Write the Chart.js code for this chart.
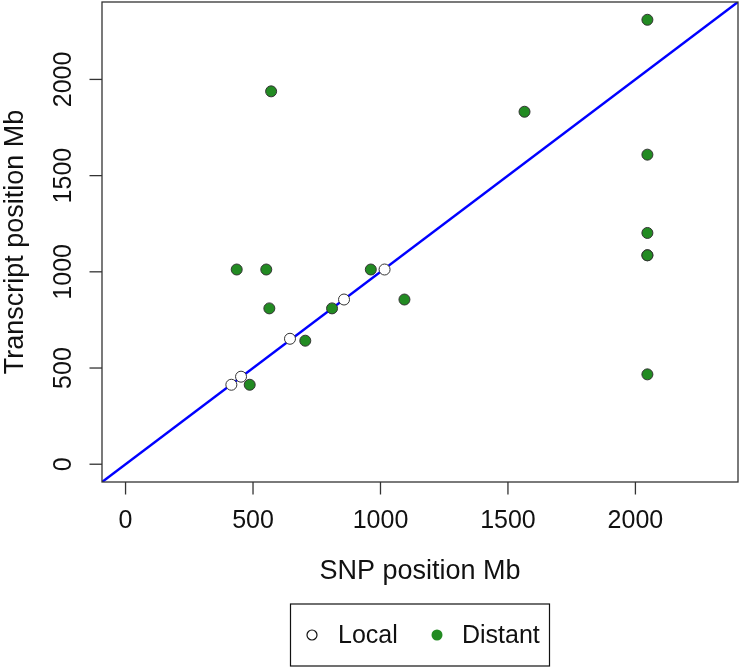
<!DOCTYPE html>
<html>
<head>
<meta charset="utf-8">
<script src="https://cdn.jsdelivr.net/npm/chart.js@4"></script>
<style>
  html, body { margin: 0; padding: 0; background: #fff; overflow: hidden; }
  canvas { display: block; }
</style>
</head>
<body>
<canvas id="eqtl" width="739" height="667"></canvas>
<script>
// SNP vs transcript positions (Mb)
const localX = [415, 453, 645, 857, 1016];
const localY = [413, 455, 652, 856, 1012];
const distantX = [436, 552, 564, 810, 962, 1094, 705, 487, 571, 1565, 2047, 2047, 2047, 2047, 2047, 2047];
const distantY = [1012, 1012, 810, 810, 1012, 856, 642, 413, 1938, 1832, 2310, 1609, 1202, 1086, 1086, 467];
const diagX = [-200, 2600];
const diagY = [-200, 2600];
const tickValues = [0, 500, 1000, 1500, 2000];
const axisMin = -92.4;
const axisMax = 2402.4;

const FONT = '"Liberation Sans", Arial, Helvetica, sans-serif';
const GREEN = '#228B22';

function toPoints(xs, ys) {
    return xs.map(function (x, i) { return { x: x, y: ys[i] }; });
}

// R-style frame, ticks, labels and boxed legend
const baseGraphics = {
    id: 'baseGraphics',
    afterDraw: function (chart) {
        const ctx = chart.ctx;
        const area = chart.chartArea;
        const xs = chart.scales.x;
        const ys = chart.scales.y;
        ctx.save();
        ctx.strokeStyle = '#333';
        ctx.lineWidth = 1.3;
        ctx.strokeRect(area.left, area.top, area.right - area.left, area.bottom - area.top);

        ctx.fillStyle = '#111';
        ctx.font = '25px ' + FONT;
        ctx.textAlign = 'center';
        ctx.textBaseline = 'middle';
        xs.ticks.forEach(function (t) {
            const px = xs.getPixelForValue(t.value);
            ctx.beginPath();
            ctx.moveTo(px, area.bottom);
            ctx.lineTo(px, area.bottom + 12.5);
            ctx.stroke();
            ctx.fillText(String(t.value), px, 521);
        });
        ys.ticks.forEach(function (t) {
            const py = ys.getPixelForValue(t.value);
            ctx.beginPath();
            ctx.moveTo(area.left, py);
            ctx.lineTo(area.left - 12.5, py);
            ctx.stroke();
            ctx.save();
            ctx.translate(64, py);
            ctx.rotate(-Math.PI / 2);
            ctx.fillText(String(t.value), 0, 0);
            ctx.restore();
        });

        ctx.font = '27px ' + FONT;
        ctx.fillText('SNP position Mb', (area.left + area.right) / 2, 572);
        ctx.save();
        ctx.translate(16, (area.top + area.bottom) / 2);
        ctx.rotate(-Math.PI / 2);
        ctx.fillText('Transcript position Mb', 0, 0);
        ctx.restore();

        // legend
        ctx.strokeStyle = '#111';
        ctx.lineWidth = 1.2;
        ctx.strokeRect(290.5, 604, 259, 62);
        const ds = chart.data.datasets;
        ctx.font = '25px ' + FONT;
        ctx.textAlign = 'left';
        ctx.beginPath();
        ctx.arc(312, 635, 5, 0, Math.PI * 2);
        ctx.fillStyle = '#fff';
        ctx.fill();
        ctx.strokeStyle = '#111';
        ctx.lineWidth = 1.2;
        ctx.stroke();
        ctx.fillStyle = '#111';
        ctx.fillText(ds[0].label, 338, 636);
        ctx.beginPath();
        ctx.arc(437, 635, 5.5, 0, Math.PI * 2);
        ctx.fillStyle = GREEN;
        ctx.fill();
        ctx.fillStyle = '#111';
        ctx.fillText(ds[1].label, 462, 636);
        ctx.restore();
    }
};

new Chart(document.getElementById('eqtl'), {
    type: 'scatter',
    data: {
        datasets: [{
            label: 'Local',
            data: toPoints(localX, localY),
            backgroundColor: '#fff',
            borderColor: '#333',
            borderWidth: 1,
            pointRadius: 5.5
        }, {
            label: 'Distant',
            data: toPoints(distantX, distantY),
            backgroundColor: GREEN,
            borderColor: '#333',
            borderWidth: 1,
            pointRadius: 5.5
        }, {
            type: 'line',
            label: 'y = x',
            data: toPoints(diagX, diagY),
            borderColor: '#0000FF',
            borderWidth: 2.5,
            pointRadius: 0,
            fill: false,
            clip: 0
        }]
    },
    options: {
        responsive: false,
        animation: false,
        devicePixelRatio: 1,
        layout: {
            autoPadding: false,
            padding: { left: 102, right: 1, top: 2, bottom: 185 }
        },
        plugins: {
            legend: { display: false },
            tooltip: { enabled: false }
        },
        scales: {
            x: {
                type: 'linear',
                display: false,
                min: axisMin,
                max: axisMax,
                afterBuildTicks: function (scale) {
                    scale.ticks = tickValues.map(function (v) { return { value: v }; });
                }
            },
            y: {
                type: 'linear',
                display: false,
                min: axisMin,
                max: axisMax,
                afterBuildTicks: function (scale) {
                    scale.ticks = tickValues.map(function (v) { return { value: v }; });
                }
            }
        }
    },
    plugins: [baseGraphics]
});
</script>
</body>
</html>
